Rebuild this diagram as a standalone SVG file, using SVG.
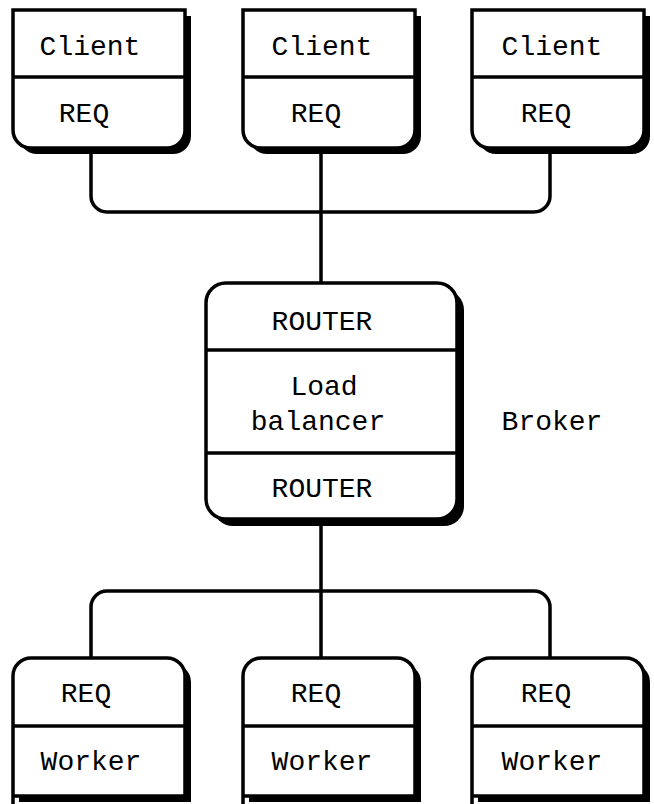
<svg xmlns="http://www.w3.org/2000/svg" width="654" height="804" viewBox="0 0 654 804">
<style>
.box{fill:#fff;stroke:#000;stroke-width:3.5}
.sh{fill:#000}
.div{stroke:#000;stroke-width:3.5}
.t{font-family:"Liberation Mono","DejaVu Sans Mono",monospace;font-size:28px;fill:#000;text-anchor:middle}
.c{fill:none;stroke:#000;stroke-width:3.5}
</style>
<defs>
<path id="clientShape" d="M0,0 H172 V120 A18,18 0 0 1 154,138 H18 A18,18 0 0 1 0,120 Z"/>
<path id="workerShape" d="M0,156 V18 A18,18 0 0 1 18,0 H154 A18,18 0 0 1 172,18 V138 H0 Z"/>
</defs>
<rect width="654" height="804" fill="#fff"/>
<g id="connectors">
<path class="c" d="M91,148 V196 A16,16 0 0 0 107,212 H534 A16,16 0 0 0 550,196 V148"/>
<path class="c" d="M321,148 V283"/>
<path class="c" d="M321,519 V658"/>
<path class="c" d="M91,658 V607 A16,16 0 0 1 107,591 H534 A16,16 0 0 1 550,607 V658"/>
</g>
<g id="client1">
<use href="#clientShape" x="19" y="16" class="sh"/>
<use href="#clientShape" x="13" y="10" class="box"/>
<line class="div" x1="13" y1="77" x2="185" y2="77"/>
<text class="t" x="90" y="55">Client</text>
<text class="t" x="84" y="122">REQ</text>
</g>
<g id="client2">
<use href="#clientShape" x="249" y="16" class="sh"/>
<use href="#clientShape" x="243" y="10" class="box"/>
<line class="div" x1="243" y1="77" x2="415" y2="77"/>
<text class="t" x="322" y="55">Client</text>
<text class="t" x="316" y="122">REQ</text>
</g>
<g id="client3">
<use href="#clientShape" x="478" y="16" class="sh"/>
<use href="#clientShape" x="472" y="10" class="box"/>
<line class="div" x1="472" y1="77" x2="644" y2="77"/>
<text class="t" x="552" y="55">Client</text>
<text class="t" x="546" y="122">REQ</text>
</g>
<g id="broker">
<rect x="213" y="290" width="251" height="236" rx="20" class="sh"/>
<rect x="206" y="283" width="251" height="236" rx="20" class="box"/>
<line class="div" x1="206" y1="350" x2="457" y2="350"/>
<line class="div" x1="206" y1="453" x2="457" y2="453"/>
<text class="t" x="322" y="330">ROUTER</text>
<text class="t" x="324" y="395">Load</text>
<text class="t" x="318" y="430">balancer</text>
<text class="t" x="322" y="497">ROUTER</text>
<text class="t" x="552" y="430">Broker</text>
</g>
<g id="worker1">
<use href="#workerShape" x="19" y="664" class="sh"/>
<use href="#workerShape" x="13" y="658" class="box"/>
<line class="div" x1="13" y1="726" x2="185" y2="726"/>
<text class="t" x="86" y="702">REQ</text>
<text class="t" x="91" y="770">Worker</text>
</g>
<g id="worker2">
<use href="#workerShape" x="249" y="664" class="sh"/>
<use href="#workerShape" x="243" y="658" class="box"/>
<line class="div" x1="243" y1="726" x2="415" y2="726"/>
<text class="t" x="316" y="702">REQ</text>
<text class="t" x="322" y="770">Worker</text>
</g>
<g id="worker3">
<use href="#workerShape" x="478" y="664" class="sh"/>
<use href="#workerShape" x="472" y="658" class="box"/>
<line class="div" x1="472" y1="726" x2="644" y2="726"/>
<text class="t" x="546" y="702">REQ</text>
<text class="t" x="552" y="770">Worker</text>
</g>
</svg>
